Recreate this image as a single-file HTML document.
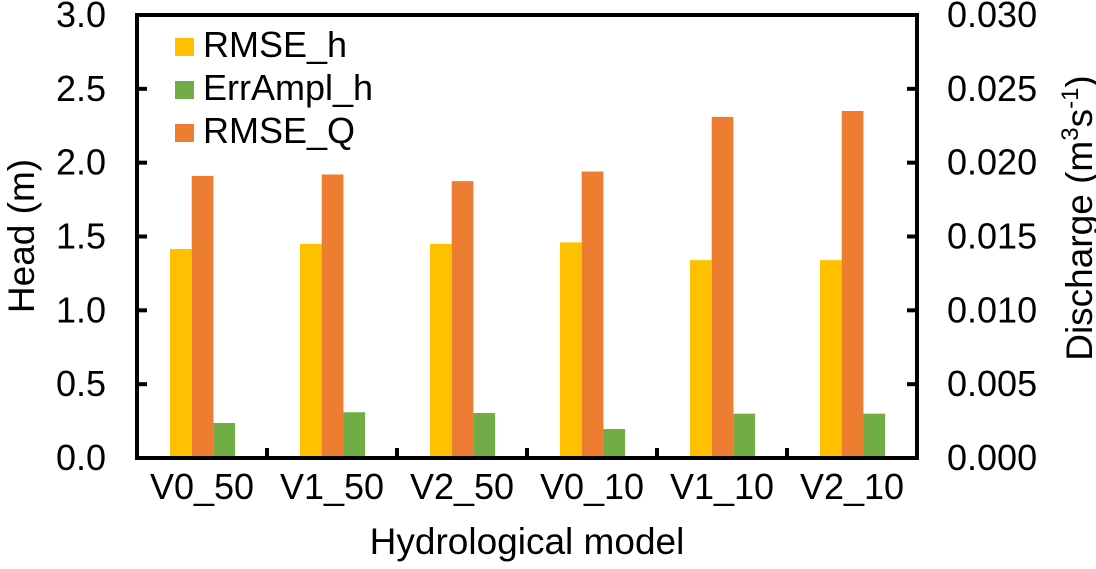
<!DOCTYPE html>
<html><head><meta charset="utf-8"><style>
body{margin:0;background:#fff;}
svg text{font-family:"Liberation Sans",Arial,sans-serif;fill:#000;}
</style></head><body>
<svg id="chart" width="1096" height="564" viewBox="0 0 1096 564">
<g id="bars"></g>
<g id="axes"></g>
<g id="legend"></g>
<text x="34" y="236" font-size="37" text-anchor="middle" transform="rotate(-90 34 236)">Head (m)</text>
<text x="1092" y="218" font-size="37" text-anchor="middle" transform="rotate(-90 1092 218)">Discharge (m<tspan font-size="24" dy="-14">3</tspan><tspan dy="14">s</tspan><tspan font-size="24" dy="-14">-1</tspan><tspan dy="14">)</tspan></text>
<text x="527" y="554" font-size="37" text-anchor="middle">Hydrological model</text>
</svg>
<script>
const categories=["V0_50","V1_50","V2_50","V0_10","V1_10","V2_10"];
const rmseH=[1.415,1.45,1.45,1.46,1.34,1.34];
const errAmplH=[0.237,0.31,0.305,0.196,0.30,0.30];
const rmseQ=[0.0191,0.0192,0.01875,0.0194,0.0231,0.0235];
const leftTicks=["0.0","0.5","1.0","1.5","2.0","2.5","3.0"];
const rightTicks=["0.000","0.005","0.010","0.015","0.020","0.025","0.030"];
const L=137,R=917,T=15,B=458,hMax=3,qMax=0.03;
const NS="http://www.w3.org/2000/svg";
const yH=v=>B-v/hMax*(B-T);
const yQ=v=>B-v/qMax*(B-T);
const bw=(R-L)/categories.length;
function mk(tag,attrs,parent){const e=document.createElementNS(NS,tag);for(const k in attrs)e.setAttribute(k,attrs[k]);parent.appendChild(e);return e;}
const bars=document.getElementById('bars'),axes=document.getElementById('axes'),legend=document.getElementById('legend');
const w=21.7;
categories.forEach((c,i)=>{
  const x0=L+i*bw+33;
  let r=mk('rect',{x:x0,y:yH(rmseH[i]),width:w,height:B-yH(rmseH[i]),fill:'#FFC000'},bars);
  
  
  r=mk('rect',{x:x0+w,y:yQ(rmseQ[i]),width:w,height:B-yQ(rmseQ[i]),fill:'#ED7D31'},bars);
  
  
  r=mk('rect',{x:x0+2*w,y:yH(errAmplH[i]),width:w,height:B-yH(errAmplH[i]),fill:'#70AD47'},bars);
  
  
  const t=mk('text',{x:L+(i+0.5)*bw,y:499,'font-size':36,'text-anchor':'middle'},axes);
  t.textContent=c;
  
  
  if(i>0){const tk=mk('line',{x1:L+i*bw,x2:L+i*bw,y1:B,y2:B-10,stroke:'#000','stroke-width':4},axes);
  
  }
});
leftTicks.forEach((s,i)=>{
  const v=i*0.5,y=yH(v);
  const t=mk('text',{x:106,y:y+12,'font-size':36,'text-anchor':'end'},axes);t.textContent=s;
  
  
  const t2=mk('text',{x:947,y:y+12,'font-size':36},axes);t2.textContent=rightTicks[i];
  
  
  if(i>0&&i<6){
    let l=mk('line',{x1:L,x2:L+10,y1:y,y2:y,stroke:'#000','stroke-width':4},axes);
    
    
    l=mk('line',{x1:R,x2:R-10,y1:y,y2:y,stroke:'#000','stroke-width':4},axes);
    
    
  }
});
const fr=mk('rect',{x:L,y:T,width:R-L,height:B-T,fill:'none',stroke:'#000','stroke-width':4},axes);


const leg=[["RMSE_h","#FFC000"],["ErrAmpl_h","#70AD47"],["RMSE_Q","#ED7D31"]];
leg.forEach((d,i)=>{
  const g=mk('g',{},legend);
  
  
  mk('rect',{x:175,y:38+i*43,width:19,height:18,fill:d[1]},g);
  const t=mk('text',{x:203,y:57+i*43,'font-size':36},g);t.textContent=d[0];
});
</script>
</body></html>
